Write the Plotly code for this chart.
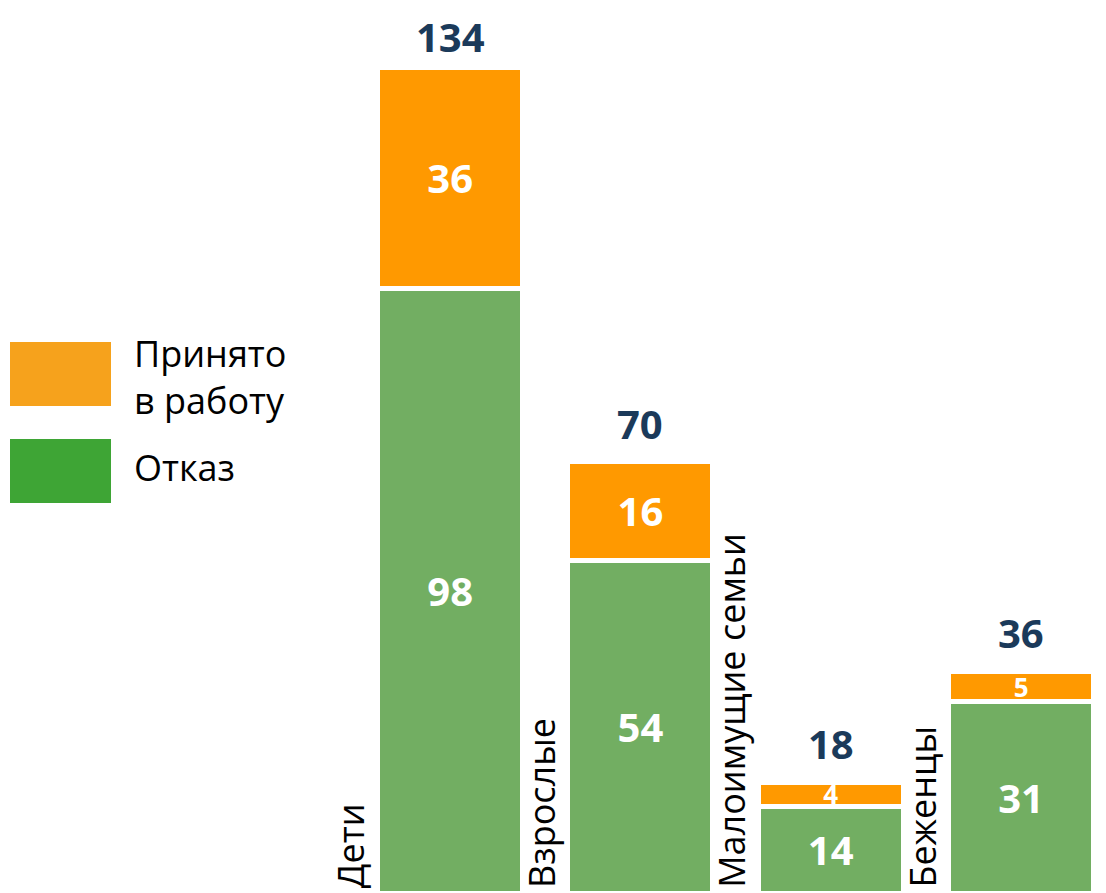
import plotly.graph_objects as go

categories = ["Дети", "Взрослые", "Малоимущие семьи", "Беженцы"]
refused = [98, 54, 14, 31]
accepted = [36, 16, 4, 5]
totals = [134, 70, 18, 36]
legend_labels = ["Принято<br>в работу", "Отказ"]

ORANGE = "#FF9900"
GREEN = "#72AE62"
ORANGE_LEG = "#F6A21C"
GREEN_LEG = "#3EA535"
NAVY = "#1B3A5A"
FONT = "Open Sans"

# page body has an 8px margin, so the figure is drawn 8px smaller/offset
OFF = 8
W, H = 1106 - OFF, 893 - OFF
L = 355 - OFF
PX_PER_UNIT = 6.164


def px(x):
    return (x - OFF - L) / (W - L)


def py(y):
    return 1 - (y - OFF) / H


fig = go.Figure()
fig.add_trace(go.Bar(
    x=categories, y=refused, name="Отказ",
    marker=dict(color=GREEN, line=dict(color="white", width=5)),
    text=refused, texttemplate="%{text}", textposition="inside",
    insidetextanchor="middle", constraintext="none", textangle=0,
    textfont=dict(family=FONT, size=40, color="white", weight="bold"),
    showlegend=False,
))
fig.add_trace(go.Bar(
    x=categories, y=accepted, name="Принято в работу",
    marker=dict(color=ORANGE, line=dict(color="white", width=5)),
    text=accepted, texttemplate="%{text}", textposition="inside",
    insidetextanchor="middle", constraintext="none", textangle=0,
    textfont=dict(family=FONT, size=[40, 40, 26, 26], color="white", weight="bold"),
    showlegend=False,
))

annotations = []
for c, t in zip(categories, totals):
    annotations.append(dict(
        x=c, y=t, xref="x", yref="y", text=str(t), showarrow=False,
        yanchor="bottom", xanchor="center",
        yshift=1 if t == max(totals) else 9,
        font=dict(family=FONT, size=40, color=NAVY, weight="bold"),
    ))
    annotations.append(dict(
        x=c, y=0, xref="x", yref="y", text=c, showarrow=False,
        textangle=-90, xanchor="right", yanchor="bottom",
        xshift=-73, yshift=3,
        font=dict(family=FONT, size=36, color="black"),
    ))

# legend built from shapes + text
shapes = [
    dict(type="rect", xref="paper", yref="paper",
         x0=px(10), x1=px(111), y0=py(406), y1=py(342),
         fillcolor=ORANGE_LEG, line=dict(width=0)),
    dict(type="rect", xref="paper", yref="paper",
         x0=px(10), x1=px(111), y0=py(503), y1=py(439),
         fillcolor=GREEN_LEG, line=dict(width=0)),
]
annotations.append(dict(
    x=px(132), y=py(377), xref="paper", yref="paper",
    text=legend_labels[0], showarrow=False, xanchor="left", yanchor="middle",
    align="left", font=dict(family=FONT, size=36, color="black"),
))
annotations.append(dict(
    x=px(132), y=py(467), xref="paper", yref="paper",
    text=legend_labels[1], showarrow=False, xanchor="left", yanchor="middle",
    align="left", font=dict(family=FONT, size=36, color="black"),
))

fig.update_layout(
    width=W, height=H,
    margin=dict(l=L, r=0, t=0, b=0),
    barmode="stack", bargap=0.238,
    plot_bgcolor="white", paper_bgcolor="white",
    xaxis=dict(range=[-0.5, 3.446], showticklabels=False, showgrid=False,
               zeroline=False, showline=False, ticks=""),
    yaxis=dict(range=[0, H / PX_PER_UNIT], showticklabels=False, showgrid=False,
               zeroline=False, showline=False, ticks=""),
    annotations=annotations, shapes=shapes,
)

fig.write_html("out.html")
